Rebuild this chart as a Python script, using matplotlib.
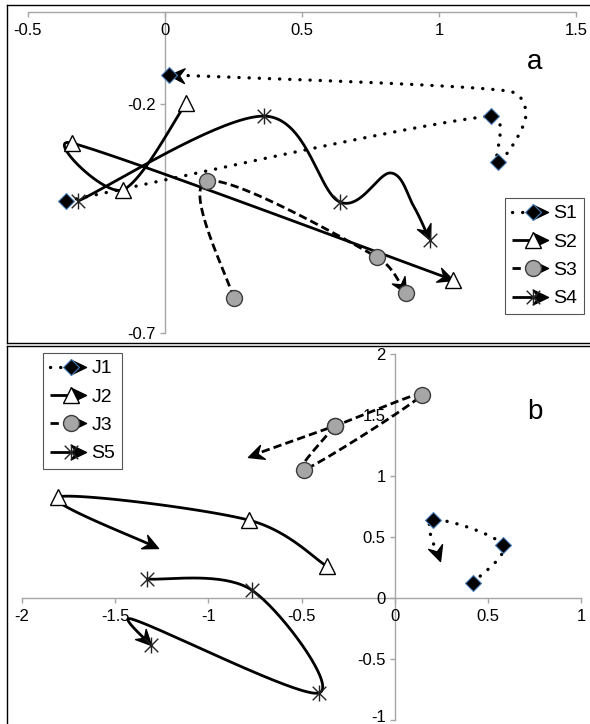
import numpy as np
import matplotlib.pyplot as plt
from matplotlib.path import Path
from matplotlib.markers import MarkerStyle
from matplotlib.transforms import Affine2D, ScaledTranslation
from matplotlib.lines import Line2D
from matplotlib.legend_handler import HandlerBase

plt.rcParams['font.family'] = ['Liberation Sans', 'DejaVu Sans']

# ---- panel a data (1 = point has a marker, 0 = bend of the smoothed line) ----
s1_x = [-0.360, 1.188, 1.214, 1.316, 1.250, 0.016]
s1_y = [-0.412, -0.227, -0.327, -0.231, -0.172, -0.137]
s1_m = [1, 1, 1, 0, 0, 1]

s2_x = [0.078, -0.155, -0.338, 1.050]
s2_y = [-0.198, -0.388, -0.286, -0.584]
s2_m = [1, 1, 1, 1]

s3_x = [0.250, 0.152, 0.772, 0.878]
s3_y = [-0.624, -0.369, -0.534, -0.613]
s3_m = [1, 1, 1, 1]

s4_x = [-0.316, 0.360, 0.637, 0.823, 0.907, 0.966]
s4_y = [-0.412, -0.227, -0.414, -0.351, -0.423, -0.497]
s4_m = [1, 1, 1, 0, 0, 1]

# ---- panel b data ----
j1_x = [0.419, 0.580, 0.204, 0.242]
j1_y = [0.123, 0.434, 0.639, 0.303]
j1_m = [1, 1, 1, 0]

j2_x = [-0.365, -0.784, -1.809, -1.272]
j2_y = [0.262, 0.639, 0.828, 0.410]
j2_m = [1, 1, 1, 0]

j3_x = [-0.322, -0.488, 0.145, -0.322, -0.789]
j3_y = [1.410, 1.049, 1.664, 1.410, 1.156]
j3_m = [1, 1, 1, 1, 0]

s5_x = [-1.331, -0.768, -0.408, -1.412, -1.310]
s5_y = [0.156, 0.066, -0.779, -0.172, -0.385]
s5_m = [1, 1, 1, 0, 1]

a_xticks = [-0.5, 0, 0.5, 1, 1.5]
a_xlabels = ['-0.5', '0', '0.5', '1', '1.5']
a_yticks = [-0.7, -0.2]
a_ylabels = ['-0.7', '-0.2']
b_xticks = [-2, -1.5, -1, -0.5, 0, 0.5, 1]
b_xlabels = ['-2', '-1.5', '-1', '-0.5', '0', '0.5', '1']
b_yticks = [-1, -0.5, 0, 0.5, 1, 1.5, 2]
b_ylabels = ['-1', '-0.5', '0', '0.5', '1', '1.5', '2']

# ---- styles ----
ARROW = Path([(0, 0), (-1, 0.48), (-0.66, 0), (-1, -0.48), (0, 0)],
             [Path.MOVETO, Path.LINETO, Path.LINETO, Path.LINETO, Path.CLOSEPOLY])
STAR = Path([(0, -1), (0, 1), (-0.85, -0.85), (0.85, 0.85), (-0.85, 0.85), (0.85, -0.85)],
            [Path.MOVETO, Path.LINETO] * 3)

DOT = dict(ls=(0, (0.05, 3.0)), dash_capstyle='round', lw=2.4)
DASH = dict(ls=(0, (3.0, 1.5)), dash_capstyle='butt', lw=2.0)
SOLID = dict(ls='-', solid_capstyle='butt', lw=2.0)

diamond = dict(marker='D', ms=7.8, mfc='black', mec='#4a7ebb', mew=0.8)
triangle = dict(marker='^', ms=11, mfc='white', mec='black', mew=1.0)
circle = dict(marker='o', ms=11.5, mfc='#a6a6a6', mec='#3c3c3c', mew=1.0)
aster = dict(marker=STAR, ms=11.5, mfc='none', mec='#222222', mew=1.0)

HEAD = 22


def smooth(P, k=0.45, n=40):
    # excel-like smoothed line: cubic bezier through the points
    P = np.asarray(P, float)
    out = [P[0]]
    m = len(P)
    for i in range(m - 1):
        p0 = P[i - 1] if i > 0 else P[i]
        p1, p2 = P[i], P[i + 1]
        p3 = P[i + 2] if i + 2 < m else P[i + 1]
        L = np.linalg.norm(p2 - p1)
        t1 = (p2 - p0) / 6
        t2 = (p3 - p1) / 6
        for t in (t1, t2):
            nt = np.linalg.norm(t)
            if nt > k * L:
                t *= k * L / nt
        c1 = p1 + t1
        c2 = p2 - t2
        s = np.linspace(0, 1, n)[1:, None]
        seg = (1 - s) ** 3 * p1 + 3 * (1 - s) ** 2 * s * c1 + 3 * (1 - s) * s ** 2 * c2 + s ** 3 * p2
        out.extend(seg)
    return np.array(out)


def draw_series(ax, xs, ys, marks, line, mk):
    disp = ax.transData.transform(np.column_stack([xs, ys]))
    curve = smooth(disp)
    tip = curve[-1]
    dist = np.hypot(*(curve - tip).T)
    i = len(curve) - 1
    while i > 0 and dist[i] < 5:
        i -= 1
    j = len(curve) - 1
    while j > 0 and dist[j] < 8:
        j -= 1
    ang = np.degrees(np.arctan2(tip[1] - curve[j][1], tip[0] - curve[j][0]))
    data = ax.transData.inverted().transform(curve[:i + 1])
    ax.plot(data[:, 0], data[:, 1], color='black', zorder=3, **line)
    ax.plot([xs[-1]], [ys[-1]], ls='none', zorder=4, color='black',
            marker=MarkerStyle(ARROW, transform=Affine2D().rotate_deg(ang)), ms=HEAD)
    mx = [x for x, f in zip(xs, marks) if f]
    my = [y for y, f in zip(ys, marks) if f]
    ax.plot(mx, my, ls='none', zorder=5, **mk)


class ArrowLegend(HandlerBase):
    def create_artists(self, legend, orig_handle, xdescent, ydescent,
                       width, height, fontsize, trans):
        line, mk = orig_handle.st
        y = height / 2 - ydescent
        x0, x1 = -xdescent, width - xdescent
        l = Line2D([x0, x1 - 5], [y, y], color='black', **line)
        m = Line2D([x0 + 0.58 * width], [y], ls='none', **mk)
        h = Line2D([x1], [y], ls='none', color='black', marker=MarkerStyle(ARROW), ms=HEAD)
        for a in (l, h, m):
            a.set_transform(trans)
        return [l, h, m]


def make_legend(ax, fig, items, px, py):
    handles = []
    for lab, line, mk in items:
        hd = Line2D([], [])
        hd.st = (line, mk)
        handles.append(hd)
    leg = ax.legend(handles, [it[0] for it in items], handler_map={Line2D: ArrowLegend()},
                    loc='upper left', bbox_to_anchor=(px / 590, 1 - py / 724),
                    bbox_transform=fig.transFigure, borderaxespad=0, fontsize=14,
                    handlelength=1.85, handletextpad=0.3, labelspacing=0.55,
                    borderpad=0.35, fancybox=False, framealpha=1, edgecolor='#555555')
    leg.get_frame().set_linewidth(0.8)
    leg.set_zorder(10)


def style_axes(ax, xt, xl, yt, yl):
    for s in ('top', 'right'):
        ax.spines[s].set_visible(False)
    ax.spines['bottom'].set_position(('data', 0))
    ax.spines['left'].set_position(('data', 0))
    for s in ('bottom', 'left'):
        ax.spines[s].set_color('#a6a6a6')
        ax.spines[s].set_linewidth(1.0)
        ax.spines[s].set_zorder(1)
    ax.set_xticks(xt, xl)
    ax.set_yticks(yt, yl)
    ax.tick_params(direction='out', length=3.5, width=1.0, color='#a6a6a6', labelsize=12)
    ax.tick_params(axis='x', pad=4.5)
    ax.tick_params(axis='y', pad=3)
    ax.xaxis.set_zorder(1)
    ax.yaxis.set_zorder(1)
    ax.patch.set_visible(False)


fig = plt.figure(figsize=(5.9, 7.24), dpi=100)

# panel a
axa = fig.add_axes([28 / 590, 1 - 333 / 724, 548 / 590, 321 / 724])
axa.set_xlim(-0.5, 1.5)
axa.set_ylim(-0.7, 0)
style_axes(axa, a_xticks, a_xlabels, a_yticks, a_ylabels)
draw_series(axa, s1_x, s1_y, s1_m, DOT, diamond)
draw_series(axa, s2_x, s2_y, s2_m, SOLID, triangle)
draw_series(axa, s3_x, s3_y, s3_m, DASH, circle)
draw_series(axa, s4_x, s4_y, s4_m, SOLID, aster)
axa.text(0.925, 0.844, 'a', transform=axa.transAxes, fontsize=20, ha='center', va='center')
make_legend(axa, fig, [('S1', DOT, diamond), ('S2', SOLID, triangle),
                       ('S3', DASH, circle), ('S4', SOLID, aster)], 505, 198)

# panel b
axb = fig.add_axes([22 / 590, 1 - 720 / 724, 559 / 590, 366 / 724])
axb.set_xlim(-2, 1)
axb.set_ylim(-1, 2)
style_axes(axb, b_xticks, b_xlabels, b_yticks, b_ylabels)
# lowest y label sits on the bottom edge: lift it a little
low = axb.get_yticklabels()[0]
low.set_transform(low.get_transform() + ScaledTranslation(0, 3 / 72, fig.dpi_scale_trans))
draw_series(axb, j1_x, j1_y, j1_m, DOT, diamond)
draw_series(axb, j2_x, j2_y, j2_m, SOLID, triangle)
draw_series(axb, j3_x, j3_y, j3_m, DASH, circle)
draw_series(axb, s5_x, s5_y, s5_m, SOLID, aster)
axb.text(0.918, 0.842, 'b', transform=axb.transAxes, fontsize=20, ha='center', va='center')
make_legend(axb, fig, [('J1', DOT, diamond), ('J2', SOLID, triangle),
                       ('J3', DASH, circle), ('S5', SOLID, aster)], 43, 353)


# panel frames
def fline(x0, y0, x1, y1):
    fig.add_artist(Line2D([x0 / 590, x1 / 590], [1 - y0 / 724, 1 - y1 / 724],
                          color='black', lw=1.0, transform=fig.transFigure))


fline(7, 5, 590, 5)
fline(7, 5, 7, 343)
fline(7, 342.5, 590, 342.5)
fline(7, 346, 590, 346)
fline(7, 346, 7, 724)

fig.savefig('out.png', dpi=100, facecolor='white')
